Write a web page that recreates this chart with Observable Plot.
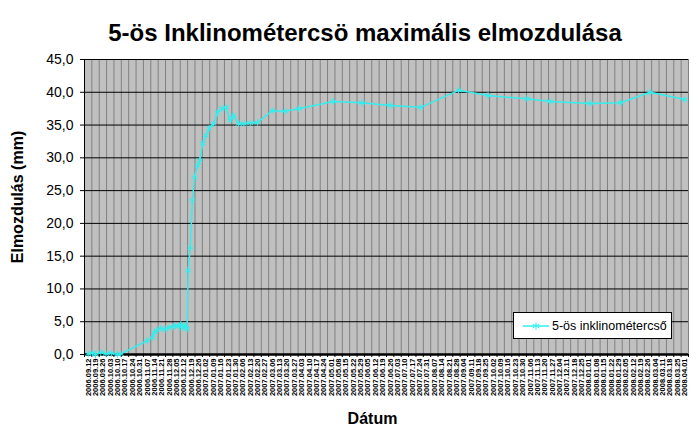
<!DOCTYPE html>
<html>
<head>
<meta charset="utf-8">
<script src="https://cdn.jsdelivr.net/npm/d3@7"></script>
<script src="https://cdn.jsdelivr.net/npm/@observablehq/plot@0.6"></script>
<style>
  html, body { margin: 0; padding: 0; background: #fff; }
  #wrap { position: relative; width: 698px; height: 432px; font-family: Arial, "Liberation Sans", sans-serif; }
  #title { position: absolute; left: 0; top: 21px; width: 730px; text-align: center; font-size: 24px; line-height: 24px; font-weight: bold; color: #000; white-space: nowrap; }
  #chart { position: absolute; left: 0; top: 45px; }
  #legend { position: absolute; left: 513px; top: 312px; width: 159px; height: 27px; box-sizing: border-box; background: #fff; border: 1px solid #000; display: flex; align-items: center; font-size: 12.5px; color: #000; white-space: nowrap; overflow: hidden; }
  #legend svg { margin-left: 8px; margin-right: 2px; flex: none; }
</style>
</head>
<body>
<div id="wrap">
  <div id="title">5-ös Inklinométercsö maximális elmozdulása</div>
  <div id="chart"></div>
  <div id="legend"></div>
</div>
<script>
// ---- data ----
const seriesName = "5-ös inklinométercső";
const dates = [
  "2006-09-12","2006-09-16","2006-09-19","2006-09-24","2006-09-29","2006-10-04","2006-10-10","2006-10-13",
  "2006-11-07","2006-11-12","2006-11-14","2006-11-16","2006-11-20","2006-11-24","2006-11-27","2006-12-01",
  "2006-12-04","2006-12-07","2006-12-09","2006-12-11","2006-12-13","2006-12-15","2006-12-16","2006-12-18",
  "2006-12-20","2006-12-22","2006-12-25","2006-12-27","2006-12-30","2007-01-02","2007-01-05","2007-01-09",
  "2007-01-13","2007-01-17","2007-01-21","2007-01-25","2007-01-28","2007-02-02","2007-02-07","2007-02-13",
  "2007-02-20","2007-03-06","2007-03-18","2007-03-31","2007-05-03","2007-05-30","2007-06-26","2007-07-25",
  "2007-08-30","2007-09-27","2007-11-03","2007-11-25","2008-01-02","2008-01-31","2008-02-28","2008-04-01"
];
const values = [
  0.1, 0.2, 0.0, 0.3, 0.1, 0.2, 0.0, 0.1,
  2.1, 2.6, 3.4, 3.7, 4.0, 3.8, 4.1, 4.2,
  4.4, 4.3, 4.6, 4.0, 4.4, 3.9, 12.8, 16.3,
  23.5, 27.0, 28.8, 29.6, 32.2, 33.4, 34.5, 35.2,
  36.9, 37.5, 37.7, 35.7, 36.5, 35.2, 35.2, 35.3,
  35.4, 37.2, 37.1, 37.5, 38.6, 38.4, 38.0, 37.7,
  40.3, 39.5, 39.0, 38.6, 38.3, 38.4, 40.0, 38.9
];
const axisStart = "2006-09-12";
const axisEnd = "2008-04-01";
const tickStepDays = 7;
const yTickValues = [0, 5, 10, 15, 20, 25, 30, 35, 40, 45];
const xTitle = "Dátum";
const yTitle = "Elmozdulás (mm)";

// ---- build ----
const lineColor = "#33eeee";
const data = dates.map((d, i) => ({date: new Date(d), value: values[i]}));
const start = new Date(axisStart), end = new Date(axisEnd);
const tickDates = d3.utcDay.range(start, d3.utcDay.offset(end, 1), tickStepDays);
const half = tickStepDays * 12; // half a slot, in hours
const boundaries = tickDates.map(d => d3.utcHour.offset(d, -half)).concat([d3.utcHour.offset(end, half)]);
const fmtDate = d3.utcFormat("%Y.%m.%d");
const fmtY = d => d3.format(".1f")(d).replace(".", ",");

const chart = Plot.plot({
  width: 698,
  height: 387,
  marginTop: 14,
  marginBottom: 78,
  marginLeft: 84,
  marginRight: 10,
  style: {fontFamily: "Arial, 'Liberation Sans', sans-serif", background: "transparent", color: "#000"},
  x: {type: "utc", domain: [boundaries[0], boundaries[boundaries.length - 1]], axis: null},
  y: {domain: [0, 45], axis: null},
  marks: [
    Plot.frame({fill: "#c0c0c0", stroke: null}),
    Plot.ruleX(boundaries.slice(1), {stroke: "#808080", strokeWidth: 1}),
    Plot.ruleY(yTickValues.filter(v => v > 0), {stroke: "#000", strokeWidth: 1}),
    Plot.ruleX([boundaries[0]], {stroke: "#000", strokeWidth: 1}),
    Plot.ruleY([0], {stroke: "#000", strokeWidth: 2.5}),
    Plot.axisY({ticks: yTickValues, tickFormat: fmtY, fontSize: 14, tickSize: 4, tickPadding: 7, label: null, stroke: "#000"}),
    Plot.axisX({ticks: boundaries, tickFormat: () => "", tickSize: 3, label: null, stroke: "#000"}),
    Plot.axisX({ticks: tickDates, tickFormat: fmtDate, tickRotate: -90, tickSize: 0, tickPadding: 4, fontSize: 7.5, fontWeight: "bold", label: null}),
    Plot.line(data, {x: "date", y: "value", stroke: lineColor, strokeWidth: 1.5}),
    Plot.dot(data, {x: "date", y: "value", symbol: "asterisk", r: 3.2, stroke: lineColor, strokeWidth: 1}),
    Plot.text([yTitle], {text: d => d, frameAnchor: "left", textAnchor: "middle", lineAnchor: "middle", rotate: -90, dx: -67, dy: -10, fontSize: 16, fontWeight: "bold"}),
    Plot.text([xTitle], {text: d => d, frameAnchor: "bottom", textAnchor: "middle", lineAnchor: "middle", dx: -14, dy: 64, fontSize: 16, fontWeight: "bold"})
  ]
});
document.getElementById("chart").appendChild(chart);

// legend
const legend = document.getElementById("legend");
const sw = d3.create("svg").attr("width", 28).attr("height", 14);
sw.append("line").attr("x1", 1).attr("x2", 27).attr("y1", 7).attr("y2", 7).attr("stroke", lineColor).attr("stroke-width", 1.5);
sw.append("path").attr("d", d3.symbol(d3.symbolAsterisk, 40)()).attr("transform", "translate(14,7)").attr("stroke", lineColor).attr("fill", "none");
legend.appendChild(sw.node());
const lt = document.createElement("span");
lt.textContent = seriesName;
legend.appendChild(lt);
</script>
</body>
</html>
